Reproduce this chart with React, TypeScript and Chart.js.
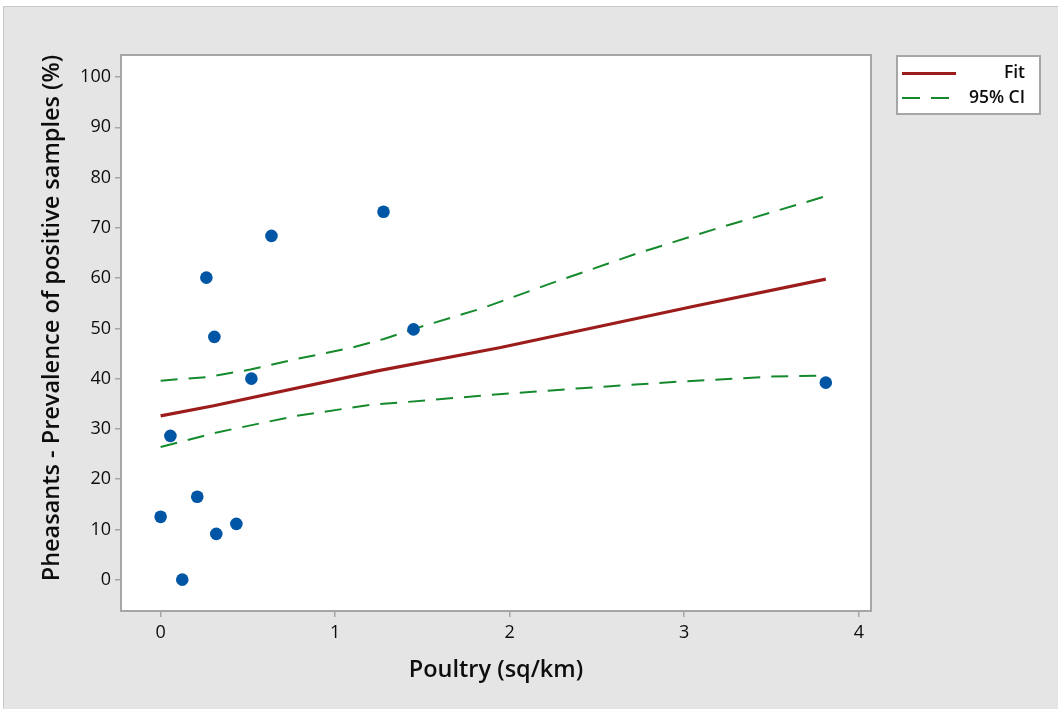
import React, { useEffect, useRef } from "react";
import { Chart, registerables } from "chart.js";

Chart.register(...registerables);

// Observed data (Poultry sq/km vs prevalence %)
const poultryX = [0, 0.056, 0.124, 0.21, 0.262, 0.308, 0.319, 0.434, 0.52, 0.635, 1.277, 1.449, 3.811];
const prevalenceY = [12.5, 28.6, 0, 16.5, 60.1, 48.3, 9.1, 11.1, 40, 68.4, 73.2, 49.8, 39.2];

// Fit line
const fitX = [0, 0.304, 1.25, 1.948, 3.056, 3.811];
const fitY = [32.6, 34.6, 41.6, 46.2, 54.4, 59.8];

// 95% CI upper
const upperX = [0, 0.266, 0.514, 0.763, 1.088, 1.279, 1.47, 1.833, 2.216, 2.712, 3.171, 3.811];
const upperY = [39.6, 40.3, 41.8, 43.8, 46.1, 47.9, 50.1, 53.9, 58.7, 64.7, 69.7, 76.3];

// 95% CI lower
const lowerX = [0, 0.323, 0.763, 1.203, 1.393, 1.833, 2.407, 3.018, 3.5, 3.811];
const lowerY = [26.4, 29.3, 32.5, 34.8, 35.3, 36.6, 38.1, 39.5, 40.4, 40.6];

const xTicks = [0, 1, 2, 3, 4];
const yTicks = [0, 10, 20, 30, 40, 50, 60, 70, 80, 90, 100];

const legendLabels = ["Fit", "95% CI"];
const xTitle = "Poultry (sq/km)";
const yTitle = "Pheasants - Prevalence of positive samples (%)";

const FIT_COLOR = "#9c1b1b";
const CI_COLOR = "#158a2c";
const POINT_COLOR = "#0055a5";
const FRAME = "#a6a6a6";
const TEXT = "#0d0d0d";
const FONT = "'Open Sans', 'Noto Sans', sans-serif";

const zip = (xs: number[], ys: number[]) => xs.map((x, i) => ({ x, y: ys[i] }));

const backgroundPlugin = {
  id: "bgFrame",
  beforeDraw(chart: any) {
    const { ctx, width, height, chartArea } = chart;
    ctx.save();
    ctx.fillStyle = "#ffffff";
    ctx.fillRect(0, 0, width, height);
    ctx.fillStyle = "#e5e5e5";
    ctx.fillRect(3, 6, width - 3, height - 6);
    ctx.strokeStyle = "#c9c9c9";
    ctx.lineWidth = 1;
    ctx.strokeRect(3.5, 6.5, width, height);
    ctx.fillStyle = "#ffffff";
    ctx.fillRect(chartArea.left, chartArea.top, chartArea.right - chartArea.left, chartArea.bottom - chartArea.top);
    ctx.restore();
  },
  beforeDatasetsDraw(chart: any) {
    const { ctx, chartArea } = chart;
    ctx.save();
    ctx.strokeStyle = FRAME;
    ctx.lineWidth = 2;
    ctx.strokeRect(chartArea.left, chartArea.top, chartArea.right - chartArea.left, chartArea.bottom - chartArea.top);
    // y axis title
    ctx.translate(52, 318);
    ctx.rotate(-Math.PI / 2);
    ctx.fillStyle = TEXT;
    ctx.font = `600 23.5px ${FONT}`;
    ctx.textAlign = "center";
    ctx.textBaseline = "middle";
    ctx.fillText(yTitle, 0, 0);
    ctx.restore();
  },
  afterDraw(chart: any) {
    const { ctx } = chart;
    const bx = 897, by = 56, bw = 143, bh = 58;
    ctx.save();
    ctx.fillStyle = "#ffffff";
    ctx.fillRect(bx, by, bw, bh);
    ctx.strokeStyle = FRAME;
    ctx.lineWidth = 2;
    ctx.strokeRect(bx, by, bw, bh);
    // Fit sample
    ctx.strokeStyle = FIT_COLOR;
    ctx.lineWidth = 3;
    ctx.beginPath();
    ctx.moveTo(902, 73.5);
    ctx.lineTo(956, 73.5);
    ctx.stroke();
    // CI sample
    ctx.strokeStyle = CI_COLOR;
    ctx.lineWidth = 2;
    ctx.setLineDash([18, 11]);
    ctx.beginPath();
    ctx.moveTo(902, 98);
    ctx.lineTo(951, 98);
    ctx.stroke();
    ctx.setLineDash([]);
    ctx.fillStyle = TEXT;
    ctx.font = `600 17.5px ${FONT}`;
    ctx.textAlign = "right";
    ctx.textBaseline = "middle";
    ctx.fillText(legendLabels[0], 1025, 73);
    ctx.fillText(legendLabels[1], 1025, 98);
    ctx.restore();
  },
};

export default function App() {
  const ref = useRef<HTMLCanvasElement | null>(null);
  useEffect(() => {
    document.body.style.margin = "0";
    if (!ref.current) return;
    const chart = new Chart(ref.current, {
      type: "scatter",
      data: {
        datasets: [
          {
            label: "Data",
            data: zip(poultryX, prevalenceY),
            backgroundColor: POINT_COLOR,
            borderColor: POINT_COLOR,
            pointRadius: 6.3,
            pointBorderWidth: 0,
            showLine: false,
          },
          {
            label: "Fit",
            data: zip(fitX, fitY),
            borderColor: FIT_COLOR,
            borderWidth: 3.2,
            pointRadius: 0,
            showLine: true,
            tension: 0,
          },
          {
            label: "95% CI",
            data: zip(upperX, upperY),
            borderColor: CI_COLOR,
            borderWidth: 2,
            borderDash: [17, 11],
            pointRadius: 0,
            showLine: true,
            tension: 0,
          },
          {
            label: "95% CI lower",
            data: zip(lowerX, lowerY),
            borderColor: CI_COLOR,
            borderWidth: 2,
            borderDash: [17, 11],
            pointRadius: 0,
            showLine: true,
            tension: 0,
          },
        ],
      },
      options: {
        animation: false,
        responsive: false,
        layout: { padding: { left: 0, top: 55, right: 187, bottom: 0 } },
        plugins: { legend: { display: false }, tooltip: { enabled: false }, title: { display: false } },
        scales: {
          x: {
            type: "linear",
            min: -0.227,
            max: 4.07,
            afterBuildTicks: (s: any) => {
              s.ticks = xTicks.map((v) => ({ value: v }));
            },
            afterFit: (s: any) => {
              s.height = 98;
            },
            grid: { display: true, drawOnChartArea: false, drawTicks: true, tickLength: 6, color: FRAME, lineWidth: 1.5 },
            border: { display: false },
            ticks: { color: TEXT, font: { family: FONT, size: 18 }, padding: 5, maxRotation: 0 },
            title: {
              display: true,
              text: xTitle,
              color: TEXT,
              font: { family: FONT, size: 23.5, weight: "600" },
              padding: { top: 0, bottom: 25 },
            },
          },
          y: {
            type: "linear",
            min: -6.24,
            max: 104.4,
            afterBuildTicks: (s: any) => {
              s.ticks = yTicks.map((v) => ({ value: v }));
            },
            afterFit: (s: any) => {
              s.width = 121;
            },
            grid: { display: true, drawOnChartArea: false, drawTicks: true, tickLength: 6, color: FRAME, lineWidth: 1.5 },
            border: { display: false },
            ticks: { color: TEXT, font: { family: FONT, size: 18 }, padding: 4 },
            title: { display: false },
          },
        },
      },
      plugins: [backgroundPlugin],
    });
    return () => chart.destroy();
  }, []);
  return <canvas ref={ref} width={1058} height={709} style={{ display: "block", width: 1058, height: 709 }} />;
}
